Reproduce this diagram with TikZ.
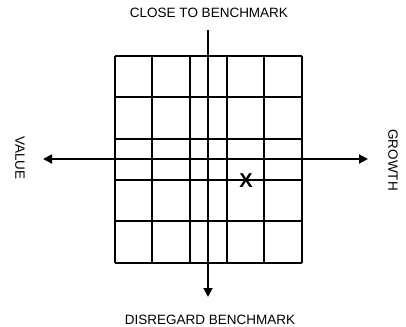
\documentclass[tikz,border=0pt]{standalone}
\usepackage{fontspec}
\setmainfont{Liberation Sans}
\usetikzlibrary{arrows.meta}
\begin{document}
\begin{tikzpicture}[x=1bp,y=-1bp,
  gridline/.style={line width=2bp,black},
  axis/.style={line width=1.8bp,black,-{Triangle[length=9bp,width=9bp]}},
  lbl/.style={font=\fontsize{13.5bp}{15bp}\selectfont,inner sep=0pt}]
\useasboundingbox (0,0) rectangle (406,327);
% grid
\foreach \xx in {115,152,190,227,264,302}
  \draw[gridline] (\xx,56) -- (\xx,263);
\foreach \yy in {56,97,139,180,221,263}
  \draw[gridline] (115,\yy) -- (302,\yy);
% axes
\coordinate (top) at (208,30);
\coordinate (bot) at (208,297);
\coordinate (cen) at (208,159);
\coordinate (lft) at (43,159);
\coordinate (rgt) at (368,159);
\draw[line width=1.8bp] (top) -- (cen);
\draw[axis] (cen) -- (bot);
\draw[axis] (cen) -- (lft);
\draw[axis] (cen) -- (rgt);
% labels
\node[lbl] (close) at (209,13) {CLOSE TO BENCHMARK};
\node[lbl] (disreg) at (210,320) {DISREGARD BENCHMARK};
\node[lbl,rotate=-90] (value) at (20,158) {VALUE};
\node[lbl,rotate=-90] (growth) at (393,160) {GROWTH};
\node[font=\bfseries\fontsize{20bp}{22bp}\selectfont,inner sep=0pt] (xmark) at (246,181) {X};
\end{tikzpicture}
\end{document}
